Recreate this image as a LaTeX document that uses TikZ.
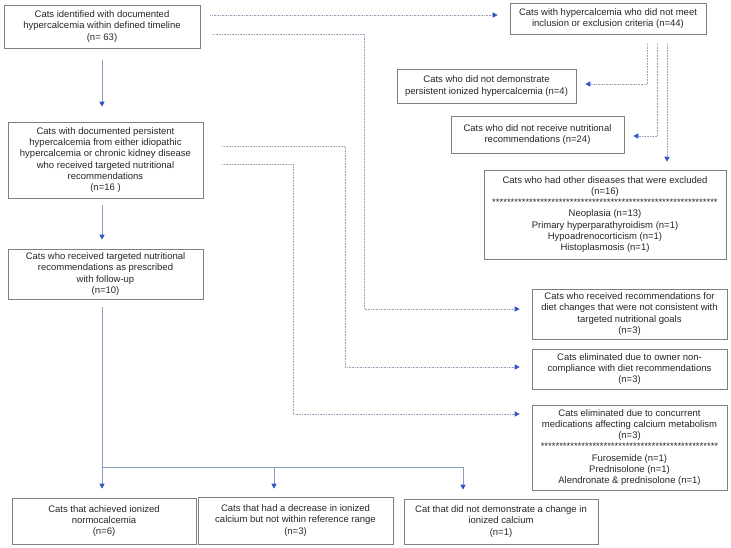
\documentclass[tikz,border=0pt]{standalone}
\usepackage{fontspec}
\setmainfont{Liberation Sans}
\usetikzlibrary{arrows.meta}
\definecolor{boxgray}{HTML}{7F7F7F}
\definecolor{linegray}{HTML}{8AA2C2}
\definecolor{dotgray}{HTML}{97A3BA}
\definecolor{tipblue}{HTML}{2E55C2}
\newcommand\starrow[1]{\foreach\i in{1,...,#1}{*}}
\tikzset{box/.style={draw=boxgray,line width=0.6pt,align=center,inner sep=0pt,
  font=\fontsize{9.5}{11.2}\selectfont,text=black!85},
  trunk/.style={draw=linegray,line width=1pt},
  flow/.style={trunk,-{Triangle[length=5pt,width=5pt,color=tipblue]}},
  excl/.style={draw=dotgray,line width=0.6pt,densely dotted,
  -{Triangle[length=5pt,width=5pt,color=tipblue]}}}
\begin{document}
\begin{tikzpicture}[x=1pt,y=-1pt]
\useasboundingbox(0,0)rectangle(731,547);
% main column
\node[box,minimum width=196pt,minimum height=43pt](A)at(102,26.5){Cats identified with documented\\hypercalcemia within defined timeline\\(n= 63)};
\node[box,minimum width=195pt,minimum height=76pt](B)at(105.5,160){Cats with documented persistent\\hypercalcemia from either idiopathic\\hypercalcemia or chronic kidney disease\\who received targeted nutritional\\recommendations\\(n=16 )};
\node[box,minimum width=195pt,minimum height=50pt](J)at(105.5,274){Cats who received targeted nutritional\\recommendations as prescribed\\with follow-up\\(n=10)};
% exclusions
\node[box,minimum width=196pt,minimum height=31pt](C)at(608,18.5){Cats with hypercalcemia who did not meet\\inclusion or exclusion criteria (n=44)};
\node[box,minimum width=179pt,minimum height=34pt](D)at(486.5,86){Cats who did not demonstrate\\persistent ionized hypercalcemia (n=4)};
\node[box,minimum width=173pt,minimum height=37pt](E)at(537.5,134.5){Cats who did not receive nutritional\\recommendations (n=24)};
\node[box,minimum width=242pt,minimum height=89pt](F)at(605,214.5){Cats who had other diseases that were excluded\\(n=16)\\\starrow{61}\\Neoplasia (n=13)\\Primary hyperparathyroidism (n=1)\\Hypoadrenocorticism (n=1)\\Histoplasmosis (n=1)};
\node[box,minimum width=195pt,minimum height=50pt](G)at(629.5,314){Cats who received recommendations for\\diet changes that were not consistent with\\targeted nutritional goals\\(n=3)};
\node[box,minimum width=195pt,minimum height=40pt](H)at(629.5,369){Cats eliminated due to owner non-\\compliance with diet recommendations\\(n=3)};
\node[box,minimum width=195pt,minimum height=85pt](I)at(629.5,447.5){Cats eliminated due to concurrent\\medications affecting calcium metabolism\\(n=3)\\\starrow{48}\\Furosemide (n=1)\\Prednisolone (n=1)\\Alendronate \& prednisolone (n=1)};
% outcomes
\node[box,minimum width=184pt,minimum height=46pt](K)at(104,521){Cats that achieved ionized\\normocalcemia\\(n=6)};
\node[box,minimum width=195pt,minimum height=47pt](L)at(295.5,520.5){Cats that had a decrease in ionized\\calcium but not within reference range\\(n=3)};
\node[box,minimum width=194pt,minimum height=45pt](M)at(501,521.5){Cat that did not demonstrate a change in\\ionized calcium\\(n=1)};
\coordinate(sK)at(102,467);
\coordinate(sL)at(274,467);
\coordinate(sM)at(463,467);
% solid arrows
\draw[flow,shorten <=12pt,shorten >=15pt](A.south)--(A|-B.north);
\draw[flow,shorten <=7pt,shorten >=9pt](A|-B.south)--(A|-J.north);
\draw[trunk,shorten <=8pt](A|-J.south)--(sK)--(sM);
\draw[flow,shorten >=9pt](sK)--(sK|-K.north);
\draw[flow,shorten >=8pt](sL)--(sL|-L.north);
\draw[flow,shorten >=9pt](sM)--(sM|-M.north);
% dotted arrows
\draw[excl,shorten <=10pt,shorten >=12pt](A.east|-0,15)--(C.west|-0,15);
\draw[excl,shorten <=12pt,shorten >=12pt](A.east|-0,34)-|(364,309)--(G.west|-0,309);
\draw[excl,shorten <=19pt,shorten >=12pt](B.east|-0,146)-|(345,367)--(H.west|-0,367);
\draw[excl,shorten <=19pt,shorten >=12pt](B.east|-0,164)-|(293,414)--(I.west|-0,414);
\draw[excl,shorten <=9pt,shorten >=9pt](647,0|-C.south)|-(D.east|-0,84);
\draw[excl,shorten <=9pt,shorten >=9pt](657,0|-C.south)|-(E.east|-0,136);
\draw[excl,shorten <=9pt,shorten >=8pt](667,0|-C.south)--(667,0|-F.north);
\end{tikzpicture}
\end{document}
